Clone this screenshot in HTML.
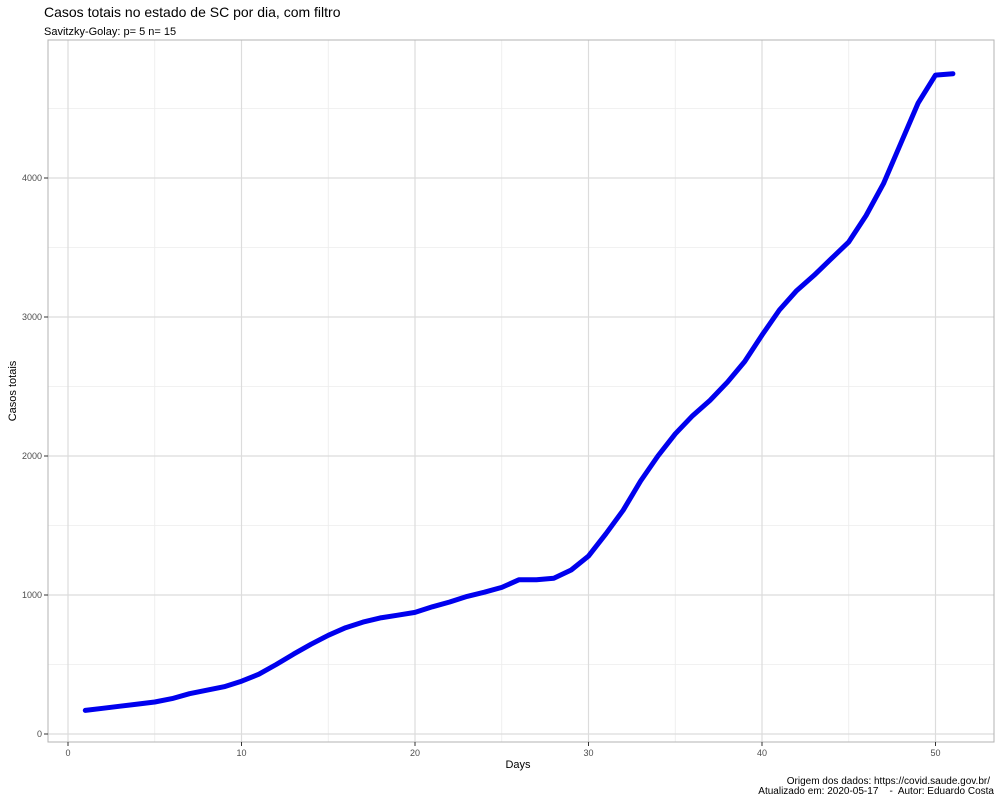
<!DOCTYPE html>
<html><head><meta charset="utf-8"><style>
body{margin:0;background:#fff;font-family:"Liberation Sans",Arial,sans-serif;}
svg text{font-family:"Liberation Sans",Arial,sans-serif;}
</style></head><body>
<svg id="chart" width="1000" height="800">
<rect width="1000" height="800" fill="#fff"/>
<text x="44" y="17" font-size="14" fill="#000">Casos totais no estado de SC por dia, com filtro</text>
<text x="44" y="35" font-size="11" fill="#000">Savitzky-Golay: p= 5 n= 15</text>
<g id="grid"></g>
<rect x="48" y="40" width="946" height="702" fill="none" stroke="#b3b3b3" stroke-width="1"/>
<g id="axes"></g>
<path id="line" fill="none" stroke="#0000ee" stroke-width="5" stroke-linejoin="round" stroke-linecap="round"/>
<text x="518" y="768" font-size="11" text-anchor="middle" fill="#000">Days</text>
<text transform="translate(16,391) rotate(-90)" font-size="11" text-anchor="middle" fill="#000">Casos totais</text>
<text x="990" y="784" font-size="10" text-anchor="end" fill="#000">Origem dos dados: https://covid.saude.gov.br/</text>
<text x="994" y="794" font-size="10" text-anchor="end" fill="#000" style="white-space:pre">Atualizado em: 2020-05-17    -  Autor: Eduardo Costa</text>
</svg>
<script>
const days=[1,2,3,4,5,6,7,8,9,10,11,12,13,14,15,16,17,18,19,20,21,22,23,24,25,26,27,28,29,30,31,32,33,34,35,36,37,38,39,40,41,42,43,44,45,46,47,48,49,50,51];
const cases=[170,185,200,215,230,255,290,315,340,380,430,500,575,645,710,765,805,835,855,875,915,950,990,1020,1055,1110,1110,1120,1180,1280,1440,1610,1820,2000,2160,2290,2400,2530,2680,2870,3050,3190,3300,3420,3540,3730,3960,4250,4540,4740,4750];
const xTicks=[0,10,20,30,40,50];
const yTicks=[0,1000,2000,3000,4000];
const NS="http://www.w3.org/2000/svg";
function xs(d){return 68+d*17.35;}
function ys(v){return 734-v*0.139;}
const grid=document.getElementById('grid'),axes=document.getElementById('axes');
function ln(p,x1,y1,x2,y2,c,w){const l=document.createElementNS(NS,'line');l.setAttribute('x1',x1);l.setAttribute('y1',y1);l.setAttribute('x2',x2);l.setAttribute('y2',y2);l.setAttribute('stroke',c);l.setAttribute('stroke-width',w);p.appendChild(l);return l;}
for(let d=5;d<=55;d+=10){if(xs(d)<994){const l=ln(grid,xs(d),40,xs(d),742,'#ececec',0.8);

}}
for(let v=500;v<=4500;v+=1000){const l=ln(grid,48,ys(v),994,ys(v),'#ececec',0.8);

}
xTicks.forEach(d=>{const l=ln(grid,xs(d),40,xs(d),742,'#dcdcdc',1.2);


const t=ln(axes,xs(d),742,xs(d),746,'#333',1);


const tx=document.createElementNS(NS,'text');tx.setAttribute('x',xs(d));tx.setAttribute('y',756);tx.setAttribute('font-size','9');tx.setAttribute('text-anchor','middle');tx.setAttribute('fill','#4d4d4d');tx.textContent=d;


axes.appendChild(tx);});
yTicks.forEach(v=>{const l=ln(grid,48,ys(v),994,ys(v),'#dcdcdc',1.2);


const t=ln(axes,44,ys(v),48,ys(v),'#333',1);


const tx=document.createElementNS(NS,'text');tx.setAttribute('x',42);tx.setAttribute('y',ys(v)+3);tx.setAttribute('font-size','9');tx.setAttribute('text-anchor','end');tx.setAttribute('fill','#4d4d4d');tx.textContent=v;


axes.appendChild(tx);});
document.getElementById('line').setAttribute('d',days.map((d,i)=>(i?'L':'M')+xs(d).toFixed(1)+','+ys(cases[i]).toFixed(1)).join(''));
</script>
</body></html>
